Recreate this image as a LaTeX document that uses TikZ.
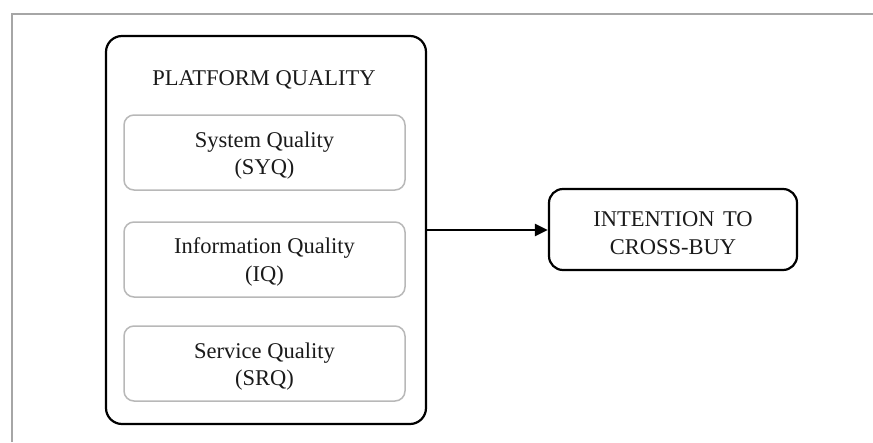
\documentclass[tikz,border=0pt]{standalone}
\usepackage{fontspec}
\setmainfont{Liberation Serif}
\usetikzlibrary{arrows.meta}
\definecolor{framegray}{HTML}{A6A6A6}
\definecolor{innergray}{HTML}{B8B8B8}
\definecolor{textcol}{HTML}{1A1A1A}
\begin{document}
\begin{tikzpicture}[x=1pt,y=-1pt,
  outerbox/.style={draw=black, line width=2.2pt, rounded corners=16pt, minimum width=320pt, minimum height=388pt, inner sep=0pt},
  innerbox/.style={draw=innergray, line width=1.5pt, rounded corners=10pt, minimum width=281pt, minimum height=75pt, inner sep=0pt},
  targetbox/.style={draw=black, line width=2.2pt, rounded corners=14pt, minimum width=248pt, minimum height=81pt, inner sep=0pt},
  txt/.style={font=\fontsize{22.5}{27.6}\selectfont, align=center, inner sep=0pt, text=textcol},
  framestyle/.style={draw=framegray, line width=2pt},
  conn/.style={draw=black, line width=2.6pt, -{Triangle[length=13pt,width=12pt]}}]
\useasboundingbox (0,0) rectangle (873,442);
% page frame
\coordinate (f1) at (12,442);
\coordinate (f2) at (12,14);
\coordinate (f3) at (873,14);
\draw[framestyle] (f1) -- (f2) -- (f3);
% outer box
\node[outerbox] (pq) at (266,230) {};
\node[txt, anchor=base] (pqt) at (264,85) {PLATFORM QUALITY};
% inner boxes
\node[innerbox] (syq) at (264.5,152.5) {};
\node[txt] (syqt) at (264.5,155.5) {System Quality\\(SYQ)};
\node[innerbox] (iq) at (264.5,259.5) {};
\node[txt] (iqt) at (264.5,262) {Information Quality\\(IQ)};
\node[innerbox] (srq) at (264.5,363.5) {};
\node[txt] (srqt) at (264.5,366.5) {Service Quality\\(SRQ)};
% target
\node[targetbox] (icb) at (673,229.5) {};
\node[txt] (icbt) at (673,233) {INTENTION\hspace{3pt} TO\\CROSS-BUY};
% connector
\draw[conn] (pq.east) -- (pq.east -| icb.west);
\end{tikzpicture}
\end{document}
